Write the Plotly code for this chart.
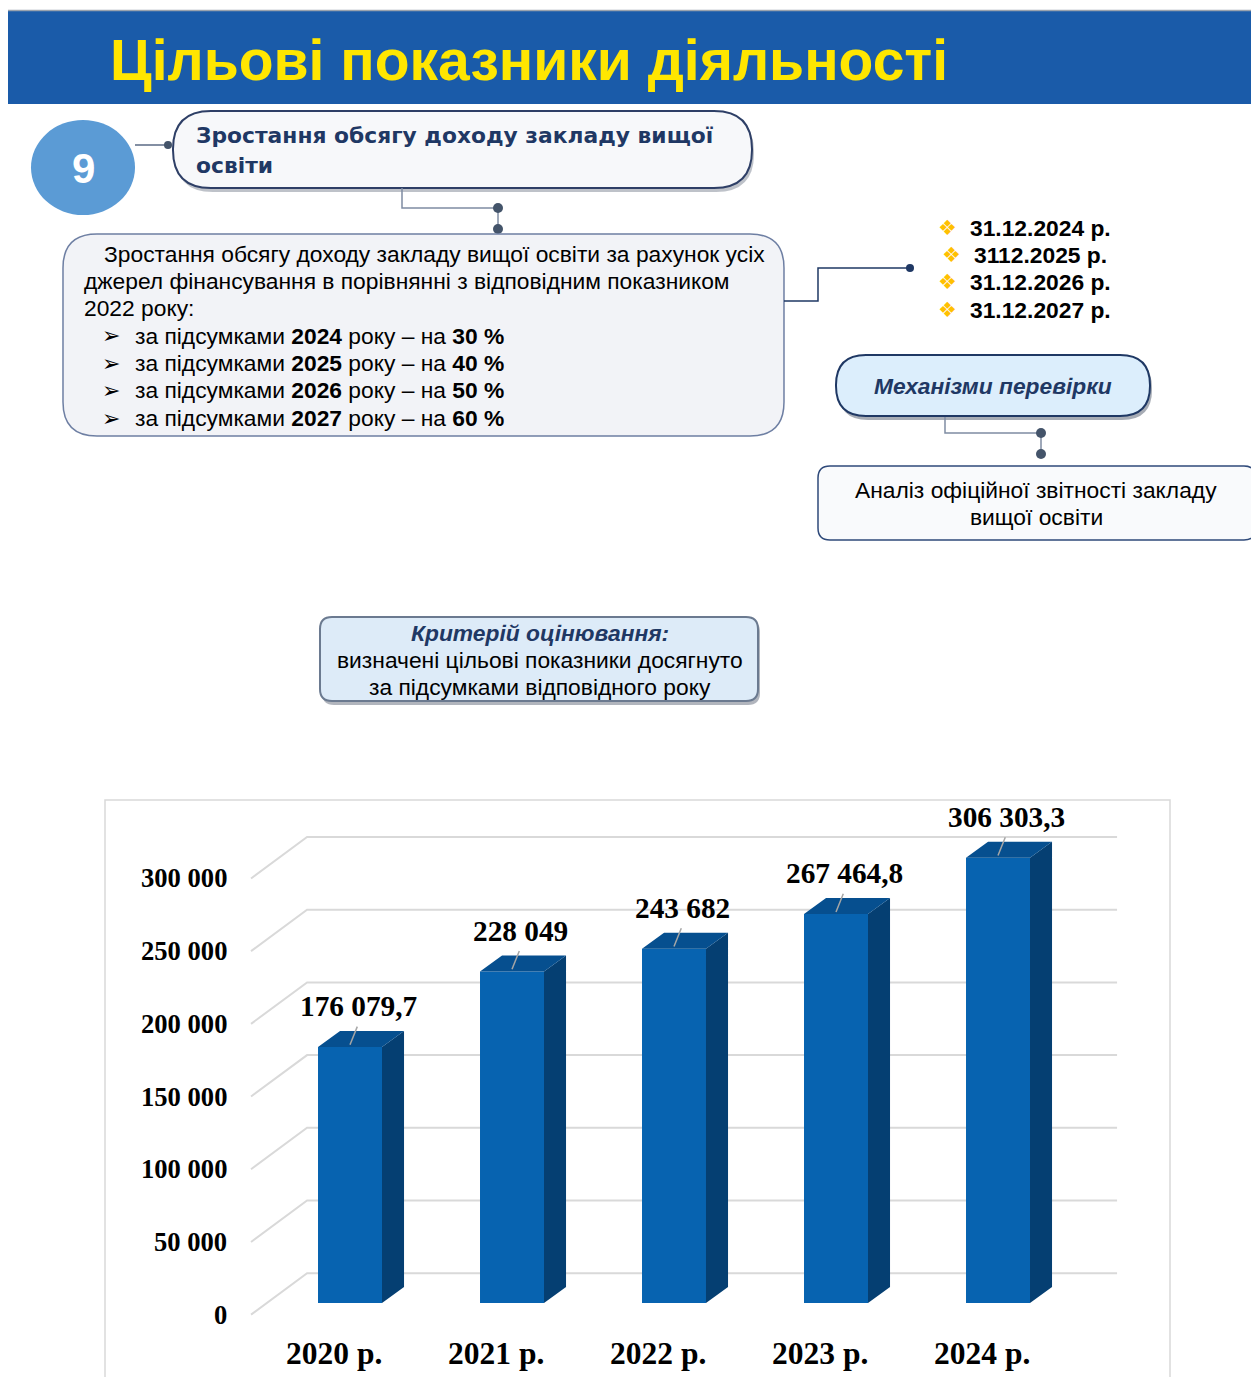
import plotly.graph_objects as go

# page canvas (reference pixels) and the figure (the page body keeps an 8px margin)
W, H = 1259, 1385
OFF = 8
FW, FH = W - OFF, H - 2 * OFF

# ---------------- data ----------------
categories = ["2020 р.", "2021 р.", "2022 р.", "2023 р.", "2024 р."]
values = [176079.7, 228049, 243682, 267464.8, 306303.3]
value_labels = ["176 079,7", "228 049", "243 682", "267 464,8", "306 303,3"]
tick_values = [0, 50000, 100000, 150000, 200000, 250000, 300000]
tick_labels = ["0", "50 000", "100 000", "150 000", "200 000", "250 000", "300 000"]

goal_years = ["2024", "2025", "2026", "2027"]
goal_pcts = ["30 %", "40 %", "50 %", "60 %"]
deadlines = ["31.12.2024 р.", "3112.2025 р.", "31.12.2026 р.", "31.12.2027 р."]

title_text = "Цільові показники діяльності"
indicator_no = "9"
indicator_name = ["Зростання обсягу доходу закладу вищої", "освіти"]
intro_lines = ["Зростання обсягу доходу закладу вищої освіти за рахунок усіх",
               "джерел фінансування в порівнянні з відповідним показником",
               "2022 року:"]
check_title = "Механізми перевірки"
check_lines = ["Аналіз офіційної звітності закладу", "вищої освіти"]
crit_title = "Критерій оцінювання:"
crit_lines = ["визначені цільові показники досягнуто", "за підсумками відповідного року"]


# ---------------- helpers (page pixel -> paper) ----------------
def px(x):
    return (x - OFF) / FW


def py(y):
    return 1 - (y - OFF) / FH


def pt(x, y):
    return f"{px(x):.5f},{py(y):.5f}"


def poly_path(points):
    s = "M " + pt(*points[0])
    for p in points[1:]:
        s += " L " + pt(*p)
    return s


def rrect_path(x0, y0, x1, y1, r):
    return (f"M {pt(x0 + r, y0)} L {pt(x1 - r, y0)} Q {pt(x1, y0)} {pt(x1, y0 + r)} "
            f"L {pt(x1, y1 - r)} Q {pt(x1, y1)} {pt(x1 - r, y1)} "
            f"L {pt(x0 + r, y1)} Q {pt(x0, y1)} {pt(x0, y1 - r)} "
            f"L {pt(x0, y0 + r)} Q {pt(x0, y0)} {pt(x0 + r, y0)} Z")


shapes = []
annotations = []


def add_rrect(x0, y0, x1, y1, r, fill, line, lw, shadow=None):
    if shadow:
        shapes.append(dict(type="path", xref="paper", yref="paper",
                           path=rrect_path(x0 + 2, y0 + 3, x1 + 2, y1 + 4, r),
                           fillcolor=shadow, line=dict(width=0), layer="above"))
    shapes.append(dict(type="path", xref="paper", yref="paper",
                       path=rrect_path(x0, y0, x1, y1, r),
                       fillcolor=fill, line=dict(color=line, width=lw), layer="above"))


def add_line(points, color, lw):
    shapes.append(dict(type="path", xref="paper", yref="paper", path=poly_path(points),
                       line=dict(color=color, width=lw), layer="above"))


def add_dot(x, y, r, color):
    shapes.append(dict(type="circle", xref="paper", yref="paper",
                       x0=px(x - r), x1=px(x + r), y0=py(y + r), y1=py(y - r),
                       fillcolor=color, line=dict(width=0), layer="above"))


def add_text(x, y, text, size, color="#000000", family="Liberation Sans",
             xanchor="left", yanchor="middle"):
    annotations.append(dict(x=px(x), y=py(y), xref="paper", yref="paper", text=text,
                            showarrow=False, xanchor=xanchor, yanchor=yanchor,
                            font=dict(size=size, color=color, family=family)))


FS = 22.8  # body text size

# ---------------- header ----------------
shapes.append(dict(type="rect", xref="paper", yref="paper", x0=px(6), x1=px(1262),
                   y0=py(104), y1=py(11), fillcolor="#1A5BA9",
                   line=dict(width=0), layer="above"))
shapes.append(dict(type="line", xref="paper", yref="paper", x0=px(6), x1=px(1262),
                   y0=py(10.5), y1=py(10.5), line=dict(color="#9AA3AE", width=1.5),
                   layer="above"))
add_text(108, 60, f"<b>{title_text}</b>", 57, "#FFE600")

# ---------------- indicator block ----------------
shapes.append(dict(type="circle", xref="paper", yref="paper", x0=px(31), x1=px(135),
                   y0=py(215), y1=py(120), fillcolor="#5B9BD5",
                   line=dict(width=0), layer="above"))
add_text(83, 168, f"<b>{indicator_no}</b>", 42, "#FFFFFF", xanchor="center")
add_line([(135, 145), (168, 145)], "#5A6A85", 1.5)
add_dot(168, 145, 4, "#44546A")

add_rrect(173, 111, 752, 188, 38, "#F7F8FA", "#2E3F66", 2, shadow="rgba(70,80,100,0.35)")
add_text(194, 136, f"<b>{indicator_name[0]}</b>", 21.8, "#1F3864", family="DejaVu Sans")
add_text(194, 166, f"<b>{indicator_name[1]}</b>", 21.8, "#1F3864", family="DejaVu Sans")

add_line([(402, 188), (402, 208), (498, 208), (498, 229)], "#7F8CA3", 1.5)
add_dot(498, 208, 5, "#44546A")
add_dot(498, 229, 5, "#44546A")

add_rrect(63, 234, 784, 436, 34, "#F2F3F7", "#6E7FA3", 1.5)
intro_x = [102, 82, 82]
intro_y = [254, 281, 308]
for t, x, y in zip(intro_lines, intro_x, intro_y):
    add_text(x, y, t, FS)
goal_y = [336, 363, 390, 418]
for yr, pc, y in zip(goal_years, goal_pcts, goal_y):
    add_text(100, y, "➢", 22, family="DejaVu Sans")
    add_text(133, y, f"за підсумками <b>{yr}</b> року – на <b>{pc}</b>", FS)

add_line([(784, 301), (818, 301), (818, 268), (910, 268)], "#1F3864", 1.5)
add_dot(910, 268, 4, "#1F3864")

date_x = [968, 972, 968, 968]
date_y = [228, 255, 282, 310]
for d, x, y in zip(deadlines, date_x, date_y):
    add_text(x - 32, y, "❖", 21, "#FFC000", family="DejaVu Sans")
    add_text(x, y, f"<b>{d}</b>", FS)

add_rrect(836, 355, 1150, 416, 30, "#DCEEFC", "#1F3864", 2, shadow="rgba(60,70,90,0.45)")
add_text(993, 386, f"<b><i>{check_title}</i></b>", FS, "#1F3864", xanchor="center")
add_line([(945, 417), (945, 433), (1041, 433), (1041, 454)], "#7F8CA3", 1.5)
add_dot(1041, 433, 5, "#44546A")
add_dot(1041, 454, 5, "#44546A")

add_rrect(818, 466, 1256, 540, 12, "#F9FAFC", "#2F4A7A", 1.5)
add_text(1036, 490, check_lines[0], FS, xanchor="center")
add_text(1036, 517, check_lines[1], FS, xanchor="center")

add_rrect(320, 617, 758, 701, 12, "#DDEBF8", "#6B7A90", 2, shadow="rgba(60,70,90,0.4)")
add_text(540, 633, f"<b><i>{crit_title}</i></b>", FS, "#1F3864", xanchor="center")
add_text(540, 660, crit_lines[0], FS, xanchor="center")
add_text(540, 687, crit_lines[1], FS, xanchor="center")

# ---------------- 3D-looking bar chart ----------------
shapes.append(dict(type="rect", xref="paper", yref="paper", x0=px(105), x1=px(1170),
                   y0=py(1400), y1=py(800), line=dict(color="#D9D9D9", width=1.5),
                   fillcolor="rgba(0,0,0,0)", layer="below"))

BW = 0.395      # bar width (category units)
DX = 0.136      # depth offset x (category units)
DY = 11000      # depth offset y (value units)
GX_FRONT, GX_BACK, GX_END = -0.611, -0.265, 4.735
G_FRONT_OFF, G_BACK_OFF = -8000, 20500

for v in tick_values:
    shapes.append(dict(type="path", xref="x", yref="y", layer="below",
                       path=f"M {GX_FRONT},{v + G_FRONT_OFF} L {GX_BACK},{v + G_BACK_OFF} "
                            f"L {GX_END},{v + G_BACK_OFF}",
                       line=dict(color="#D9D9D9", width=2)))

xs = list(range(len(categories)))

fig = go.Figure()
fig.add_trace(go.Bar(x=xs, y=values, width=BW, marker=dict(color="#0763B0", line=dict(width=0)),
                     hoverinfo="skip", showlegend=False))

side_x, side_y, top_x, top_y = [], [], [], []
for i, v in zip(xs, values):
    xl, xr = i - BW / 2, i + BW / 2
    side_x += [xr, xr + DX, xr + DX, xr, xr, None]
    side_y += [0, DY, v + DY, v, 0, None]
    top_x += [xl, xl + DX, xr + DX, xr, xl, None]
    top_y += [v, v + DY, v + DY, v, v, None]

fig.add_trace(go.Scatter(x=side_x, y=side_y, fill="toself", fillcolor="#053F72",
                         mode="lines", line=dict(width=0, color="#053F72"),
                         hoverinfo="skip", showlegend=False))
fig.add_trace(go.Scatter(x=top_x, y=top_y, fill="toself", fillcolor="#064F8F",
                         mode="lines", line=dict(width=0, color="#064F8F"),
                         hoverinfo="skip", showlegend=False))

lead_x, lead_y = [], []
for i, v in zip(xs, values):
    lead_x += [i + 0.045, i, None]
    lead_y += [v + 14000, v + 1500, None]
fig.add_trace(go.Scatter(x=lead_x, y=lead_y, mode="lines",
                         line=dict(color="#A6A6A6", width=1.5),
                         hoverinfo="skip", showlegend=False))

for i, v, t in zip(xs, values, value_labels):
    annotations.append(dict(x=i + 0.05, y=v + 28000, xref="x", yref="y", text=f"<b>{t}</b>",
                            showarrow=False, xanchor="center", yanchor="middle",
                            font=dict(size=29.3, color="#000000", family="Liberation Serif")))

for v, t in zip(tick_values, tick_labels):
    annotations.append(dict(x=-0.747, y=v + G_FRONT_OFF, xref="x", yref="y", text=f"<b>{t}</b>",
                            showarrow=False, xanchor="right", yanchor="middle",
                            font=dict(size=26.6, color="#000000", family="Liberation Serif")))

for i, c in zip(xs, categories):
    annotations.append(dict(x=i - 0.1, y=-35000, xref="x", yref="y", text=f"<b>{c}</b>",
                            showarrow=False, xanchor="center", yanchor="middle",
                            font=dict(size=31.5, color="#000000", family="Liberation Serif")))

X0PX, XSTEP = 350, 162
Y0PX, YPX_PER = 1303, 1.454 / 1000
Y_BOTTOM_PX = OFF + FH  # bottom edge of the figure in page pixels

fig.update_layout(
    width=FW, height=FH,
    margin=dict(l=0, r=0, t=0, b=0),
    paper_bgcolor="#FFFFFF", plot_bgcolor="rgba(0,0,0,0)",
    showlegend=False,
    shapes=shapes, annotations=annotations,
    xaxis=dict(domain=[px(105), px(1170)],
               range=[(105 - X0PX) / XSTEP, (1170 - X0PX) / XSTEP],
               visible=False, fixedrange=True),
    yaxis=dict(domain=[py(Y_BOTTOM_PX), py(800)],
               range=[(Y0PX - Y_BOTTOM_PX) / YPX_PER, (Y0PX - 800) / YPX_PER],
               visible=False, fixedrange=True),
)

fig.write_html("out.html")
